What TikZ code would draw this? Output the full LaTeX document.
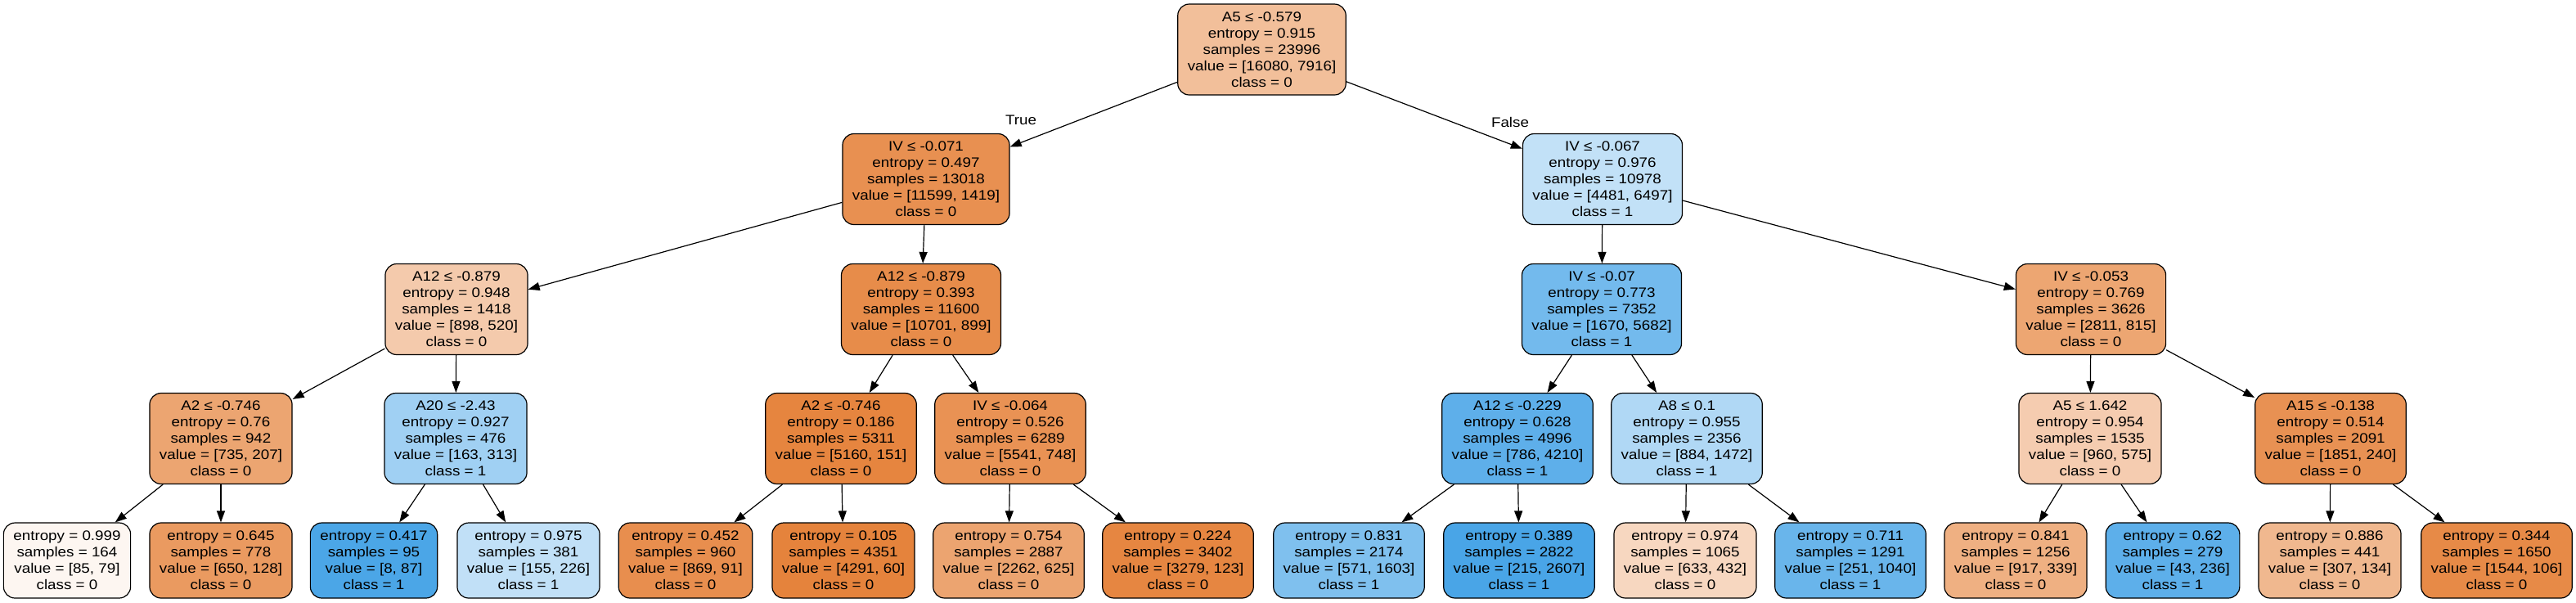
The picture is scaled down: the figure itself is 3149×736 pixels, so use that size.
\documentclass[tikz,border=0pt]{standalone}
\usepackage{fontspec}
\newfontfamily\gvfont[FakeStretch=1.12]{Liberation Sans}
\usetikzlibrary{arrows.meta}
\definecolor{czero}{RGB}{229,129,57}
\definecolor{cone}{RGB}{57,157,229}
\tikzset{
  tn/.style={draw=black, line width=0.6pt, rounded corners=7pt, align=center,
    font=\gvfont\fontsize{8.4}{10}\selectfont, inner xsep=6pt, inner ysep=0pt},
  splitnode/.style={tn, minimum height=55.5pt},
  leafnode/.style={tn, minimum height=46pt},
  link/.style={-{Triangle[length=7pt,width=5pt]}, line width=0.6pt, black},
  elabel/.style={font=\gvfont\fontsize{8.4}{10}\selectfont}
}
\begin{document}
\begin{tikzpicture}[x=0.5pt,y=-0.5pt]
\path[fill=white,use as bounding box] (0,0) rectangle (3149,736);
% level 0
\node[splitnode, fill=czero!50.8!white] (n0) at (1542.5,60.5) {A5 ≤ -0.579\\entropy = 0.915\\samples = 23996\\value = [16080, 7916]\\class = 0};
% level 1
\node[splitnode, fill=czero!87.8!white] (n1) at (1132,219) {IV ≤ -0.071\\entropy = 0.497\\samples = 13018\\value = [11599, 1419]\\class = 0};
\node[splitnode, fill=cone!31.0!white] (n2) at (1959,219) {IV ≤ -0.067\\entropy = 0.976\\samples = 10978\\value = [4481, 6497]\\class = 1};
% level 2
\node[splitnode, fill=czero!42.1!white] (n3) at (558,378) {A12 ≤ -0.879\\entropy = 0.948\\samples = 1418\\value = [898, 520]\\class = 0};
\node[splitnode, fill=czero!91.6!white] (n4) at (1126,378) {A12 ≤ -0.879\\entropy = 0.393\\samples = 11600\\value = [10701, 899]\\class = 0};
\node[splitnode, fill=cone!70.6!white] (n5) at (1958,378) {IV ≤ -0.07\\entropy = 0.773\\samples = 7352\\value = [1670, 5682]\\class = 1};
\node[splitnode, fill=czero!71.0!white] (n6) at (2556,378) {IV ≤ -0.053\\entropy = 0.769\\samples = 3626\\value = [2811, 815]\\class = 0};
% level 3
\node[splitnode, fill=czero!71.8!white] (n7) at (270,536) {A2 ≤ -0.746\\entropy = 0.76\\samples = 942\\value = [735, 207]\\class = 0};
\node[splitnode, fill=cone!47.9!white] (n8) at (557,536) {A20 ≤ -2.43\\entropy = 0.927\\samples = 476\\value = [163, 313]\\class = 1};
\node[splitnode, fill=czero!97.1!white] (n9) at (1028,536) {A2 ≤ -0.746\\entropy = 0.186\\samples = 5311\\value = [5160, 151]\\class = 0};
\node[splitnode, fill=czero!86.5!white] (n10) at (1235,536) {IV ≤ -0.064\\entropy = 0.526\\samples = 6289\\value = [5541, 748]\\class = 0};
\node[splitnode, fill=cone!81.3!white] (n11) at (1855,536) {A12 ≤ -0.229\\entropy = 0.628\\samples = 4996\\value = [786, 4210]\\class = 1};
\node[splitnode, fill=cone!39.9!white] (n12) at (2062,536) {A8 ≤ 0.1\\entropy = 0.955\\samples = 2356\\value = [884, 1472]\\class = 1};
\node[splitnode, fill=czero!40.1!white] (n13) at (2555,536) {A5 ≤ 1.642\\entropy = 0.954\\samples = 1535\\value = [960, 575]\\class = 0};
\node[splitnode, fill=czero!87.0!white] (n14) at (2849,536) {A15 ≤ -0.138\\entropy = 0.514\\samples = 2091\\value = [1851, 240]\\class = 0};
% level 4 (leaves)
\node[leafnode, fill=czero!7.1!white] (l1) at (82,685) {entropy = 0.999\\samples = 164\\value = [85, 79]\\class = 0};
\node[leafnode, fill=czero!80.3!white] (l2) at (270,685) {entropy = 0.645\\samples = 778\\value = [650, 128]\\class = 0};
\node[leafnode, fill=cone!90.8!white] (l3) at (457,685) {entropy = 0.417\\samples = 95\\value = [8, 87]\\class = 1};
\node[leafnode, fill=cone!31.4!white] (l4) at (646,685) {entropy = 0.975\\samples = 381\\value = [155, 226]\\class = 1};
\node[leafnode, fill=czero!89.5!white] (l5) at (838,685) {entropy = 0.452\\samples = 960\\value = [869, 91]\\class = 0};
\node[leafnode, fill=czero!98.6!white] (l6) at (1031,685) {entropy = 0.105\\samples = 4351\\value = [4291, 60]\\class = 0};
\node[leafnode, fill=czero!72.4!white] (l7) at (1233,685) {entropy = 0.754\\samples = 2887\\value = [2262, 625]\\class = 0};
\node[leafnode, fill=czero!96.2!white] (l8) at (1440,685) {entropy = 0.224\\samples = 3402\\value = [3279, 123]\\class = 0};
\node[leafnode, fill=cone!64.4!white] (l9) at (1649,685) {entropy = 0.831\\samples = 2174\\value = [571, 1603]\\class = 1};
\node[leafnode, fill=cone!91.8!white] (l10) at (1857,685) {entropy = 0.389\\samples = 2822\\value = [215, 2607]\\class = 1};
\node[leafnode, fill=czero!31.8!white] (l11) at (2060,685) {entropy = 0.974\\samples = 1065\\value = [633, 432]\\class = 0};
\node[leafnode, fill=cone!75.9!white] (l12) at (2262,685) {entropy = 0.711\\samples = 1291\\value = [251, 1040]\\class = 1};
\node[leafnode, fill=czero!63.0!white] (l13) at (2464,685) {entropy = 0.841\\samples = 1256\\value = [917, 339]\\class = 0};
\node[leafnode, fill=cone!81.8!white] (l14) at (2656,685) {entropy = 0.62\\samples = 279\\value = [43, 236]\\class = 1};
\node[leafnode, fill=czero!56.4!white] (l15) at (2848,685) {entropy = 0.886\\samples = 441\\value = [307, 134]\\class = 0};
\node[leafnode, fill=czero!93.1!white] (l16) at (3052,685) {entropy = 0.344\\samples = 1650\\value = [1544, 106]\\class = 0};
% edges
\draw[link] (n0) -- (n1);
\draw[link] (n0) -- (n2);
\node[elabel] (tlab) at (1248,147) {True};
\node[elabel] (flab) at (1846,149) {False};
\draw[link] (n1) -- (n3);
\draw[link] (n1) -- (n4);
\draw[link] (n2) -- (n5);
\draw[link] (n2) -- (n6);
\draw[link] (n3) -- (n7);
\draw[link] (n3) -- (n8);
\draw[link] (n4) -- (n9);
\draw[link] (n4) -- (n10);
\draw[link] (n5) -- (n11);
\draw[link] (n5) -- (n12);
\draw[link] (n6) -- (n13);
\draw[link] (n6) -- (n14);
\draw[link] (n7) -- (l1);
\draw[link] (n7) -- (l2);
\draw[link] (n8) -- (l3);
\draw[link] (n8) -- (l4);
\draw[link] (n9) -- (l5);
\draw[link] (n9) -- (l6);
\draw[link] (n10) -- (l7);
\draw[link] (n10) -- (l8);
\draw[link] (n11) -- (l9);
\draw[link] (n11) -- (l10);
\draw[link] (n12) -- (l11);
\draw[link] (n12) -- (l12);
\draw[link] (n13) -- (l13);
\draw[link] (n13) -- (l14);
\draw[link] (n14) -- (l15);
\draw[link] (n14) -- (l16);
\end{tikzpicture}
\end{document}
